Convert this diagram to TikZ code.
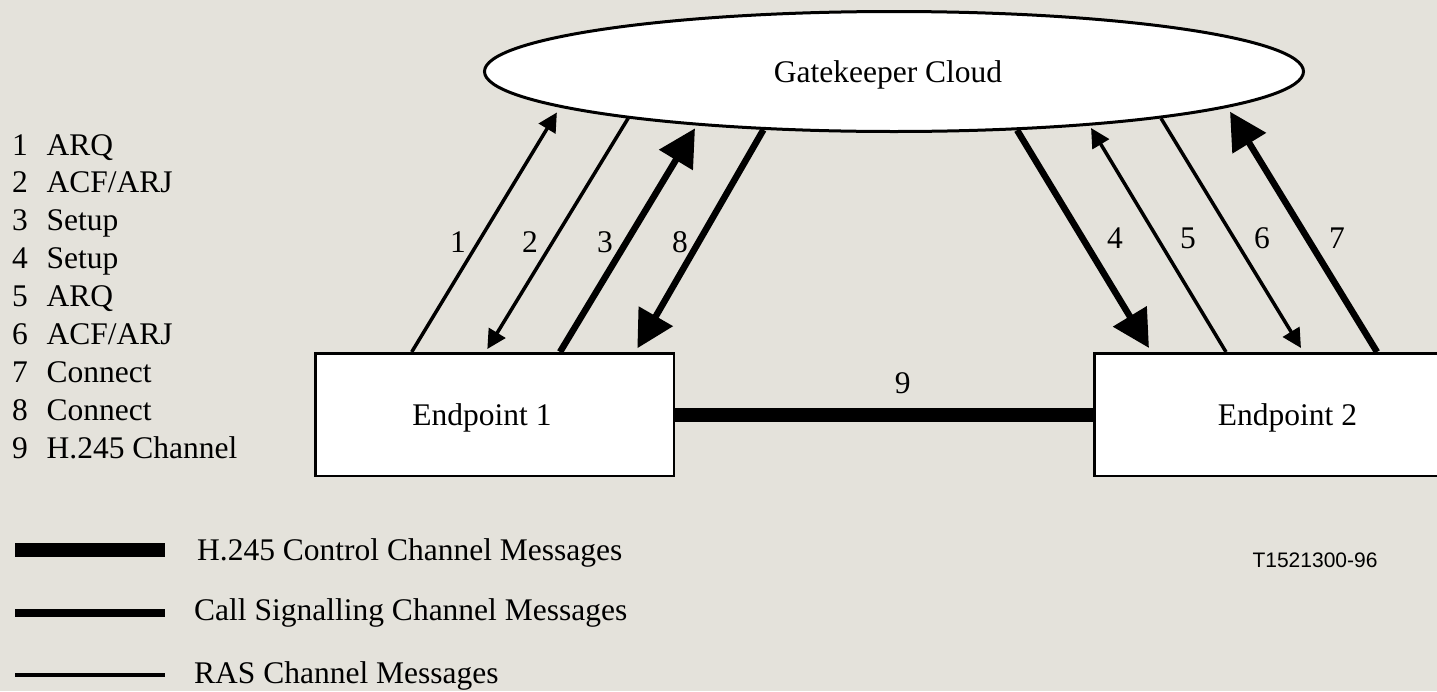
\documentclass[tikz,border=0pt]{standalone}
\usepackage{xcolor}
\usepackage{fontspec}
\setmainfont{Liberation Serif}
\newfontfamily\codefont{Liberation Sans}
\usepackage{tikz}
\usetikzlibrary{shapes,arrows,positioning,calc,arrows.meta}
\definecolor{paper}{RGB}{228,226,219}
\tikzset{
    rasline/.style={line width=3.5pt},
    callline/.style={line width=6.5pt},
    hline/.style={line width=14pt},
    rashead/.style={-{Triangle[length=19pt,width=19pt]}},
    callhead/.style={-{Triangle[length=37pt,width=38pt]}},
    epbox/.style={draw, line width=2.5pt, fill=white, minimum width=358.5pt, minimum height=122.5pt},
    gkcloud/.style={ellipse, draw, line width=3pt, fill=white, minimum width=819pt, minimum height=120pt},
    plaintext/.style={inner sep=0pt, text depth=0pt}
}

\begin{document}
\begin{tikzpicture}[x=1pt, y=-1pt, font=\fontsize{31.5pt}{38pt}\selectfont]
    \useasboundingbox (0,0) rectangle (1437,691);
    \fill [paper] (0,0) rectangle (1437,691);
    % Gatekeeper and endpoints
    \node [gkcloud, label={[plaintext, xshift=-6pt]center:Gatekeeper Cloud}] (gk) at (894,71.5) {};
    \node [epbox, label={[plaintext, xshift=-12.5pt]center:Endpoint 1}] (ep1) at (494.5,414.5) {};
    \node [epbox, label={[plaintext, xshift=14pt]center:Endpoint 2}] (ep2) at (1273.5,414.5) {};
    % Points on the rim of the cloud
    \foreach \k/\dx/\dy in {1/-334/35.8, 2/-265.8/46.7, 3/-197.3/54, 8/-130.6/58.3, 4/123.1/58.7, 5/195.6/54.1, 6/267/46.8, 7/333.4/35.9}
        \coordinate (rim\k) at ([shift={(\dx,\dy)}]gk.center);
    % H.245 channel
    \draw [hline] (ep1) -- (ep2) node [pos=.545, above=10pt] (lbl9) {9};
    % Messages on the left
    \draw [rasline, rashead, shorten >=6pt] ([xshift=97.7pt]ep1.north west) -- (rim1);
    \draw [rasline, rashead, shorten >=3.5pt] (rim2) -- ([xshift=171.5pt]ep1.north west);
    \draw [callline, callhead, shorten >=3.3pt] ([xshift=246pt]ep1.north west) -- (rim3);
    \draw [callline, callhead, shorten >=4.3pt] (rim8) -- ([xshift=321.2pt]ep1.north west);
    % Messages on the right
    \draw [callline, callhead, shorten >=4.7pt] (rim4) -- ([xshift=58.4pt]ep2.north west);
    \draw [rasline, rashead, shorten >=2.8pt] ([xshift=133pt]ep2.north west) -- (rim5);
    \draw [rasline, rashead, shorten >=4.7pt] (rim6) -- ([xshift=210.4pt]ep2.north west);
    \draw [callline, callhead, shorten >=5pt] ([xshift=284pt]ep2.north west) -- (rim7);
    % Message numbers
    \foreach \k/\x/\y in {1/458/242, 2/530/242, 3/605/242, 8/680/242, 4/1115/238, 5/1188/238, 6/1262/238, 7/1337/238}
        \node [plaintext] (num\k) at (\x,\y) {\k};
    % Sequence list
    \foreach \msg [count=\n] in {ARQ, ACF/ARJ, Setup, Setup, ARQ, ACF/ARJ, Connect, Connect, H.245 Channel}
        \node [plaintext, anchor=base west] (item\n) at (12,117.1+37.9*\n) {\makebox[34.5pt][l]{\n}\msg};
    % Legend
    \draw [line width=14pt] (15,550) -- (165,550);
    \node [plaintext, anchor=base west] (keyh) at (197,560.7) {H.245 Control Channel Messages};
    \draw [line width=8pt] (15,613) -- (165,613);
    \node [plaintext, anchor=base west] (keycall) at (194,620) {Call Signalling Channel Messages};
    \draw [line width=4pt] (15,674.7) -- (165,674.7);
    \node [plaintext, anchor=base west] (keyras) at (194,683) {RAS Channel Messages};
    % Figure code
    \node [plaintext, anchor=base, font=\codefont\fontsize{21pt}{25pt}\selectfont] (code) at (1315,567) {T1521300-96};
\end{tikzpicture}
\end{document}
